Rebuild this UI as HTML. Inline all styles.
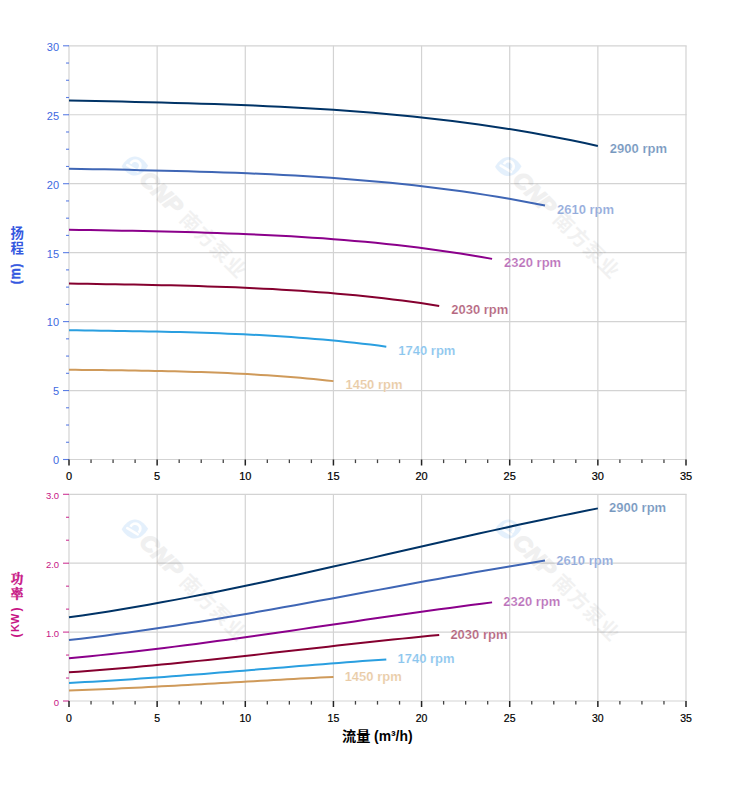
<!DOCTYPE html>
<html><head><meta charset="utf-8"><title>Pump curves</title>
<style>html,body{margin:0;padding:0;background:#fff}svg{display:block}text{font-family:"Liberation Sans","Noto Sans CJK SC",sans-serif}</style>
</head><body>
<svg width="752" height="797" viewBox="0 0 752 797">
<rect width="752" height="797" fill="#fff"/>
<line x1="69" y1="45.8" x2="69" y2="459.5" stroke="#d3d3d3" stroke-width="1.2"/>
<line x1="157.14" y1="45.8" x2="157.14" y2="459.5" stroke="#d3d3d3" stroke-width="1.2"/>
<line x1="245.29" y1="45.8" x2="245.29" y2="459.5" stroke="#d3d3d3" stroke-width="1.2"/>
<line x1="333.43" y1="45.8" x2="333.43" y2="459.5" stroke="#d3d3d3" stroke-width="1.2"/>
<line x1="421.57" y1="45.8" x2="421.57" y2="459.5" stroke="#d3d3d3" stroke-width="1.2"/>
<line x1="509.71" y1="45.8" x2="509.71" y2="459.5" stroke="#d3d3d3" stroke-width="1.2"/>
<line x1="597.86" y1="45.8" x2="597.86" y2="459.5" stroke="#d3d3d3" stroke-width="1.2"/>
<line x1="686" y1="45.8" x2="686" y2="459.5" stroke="#d3d3d3" stroke-width="1.2"/>
<line x1="69" y1="459.5" x2="686" y2="459.5" stroke="#d3d3d3" stroke-width="1.2" stroke-linecap="square"/>
<line x1="69" y1="390.55" x2="686" y2="390.55" stroke="#d3d3d3" stroke-width="1.2" stroke-linecap="square"/>
<line x1="69" y1="321.6" x2="686" y2="321.6" stroke="#d3d3d3" stroke-width="1.2" stroke-linecap="square"/>
<line x1="69" y1="252.65" x2="686" y2="252.65" stroke="#d3d3d3" stroke-width="1.2" stroke-linecap="square"/>
<line x1="69" y1="183.7" x2="686" y2="183.7" stroke="#d3d3d3" stroke-width="1.2" stroke-linecap="square"/>
<line x1="69" y1="114.75" x2="686" y2="114.75" stroke="#d3d3d3" stroke-width="1.2" stroke-linecap="square"/>
<line x1="69" y1="45.8" x2="686" y2="45.8" stroke="#d3d3d3" stroke-width="1.2" stroke-linecap="square"/>
<g transform="translate(134.9 166)" opacity="0.135"><path d="M-13.2 0.2 C-10 -5.5 -5 -9.6 0 -9.6 C5 -9.6 10 -5.5 13.2 -0.2 C10 5.5 5 9.6 0 9.6 C-5 9.6 -10 5.5 -13.2 0.2 Z" fill="#3f95ea"/><path d="M-4.4 -2.2 A5.1 5.1 0 1 1 3.6 3.6" fill="none" stroke="#fff" stroke-width="2.7"/><path d="M-7.6 -0.8 L2.8 5.3" fill="none" stroke="#fff" stroke-width="2.7" stroke-linecap="round"/></g><g transform="translate(134.9 166) rotate(45)"><text x="12.5" y="7.8" font-size="22.5" font-weight="bold" font-style="italic" fill="#222" stroke="#222" stroke-width="1.5" opacity="0.062" textLength="50" lengthAdjust="spacingAndGlyphs">CNP</text><text x="69" y="7.4" font-size="20" font-weight="bold" fill="#444" opacity="0.068" letter-spacing="1.2">南方泵业</text></g>
<g transform="translate(508.3 166.5)" opacity="0.135"><path d="M-13.2 0.2 C-10 -5.5 -5 -9.6 0 -9.6 C5 -9.6 10 -5.5 13.2 -0.2 C10 5.5 5 9.6 0 9.6 C-5 9.6 -10 5.5 -13.2 0.2 Z" fill="#3f95ea"/><path d="M-4.4 -2.2 A5.1 5.1 0 1 1 3.6 3.6" fill="none" stroke="#fff" stroke-width="2.7"/><path d="M-7.6 -0.8 L2.8 5.3" fill="none" stroke="#fff" stroke-width="2.7" stroke-linecap="round"/></g><g transform="translate(508.3 166.5) rotate(45)"><text x="12.5" y="7.8" font-size="22.5" font-weight="bold" font-style="italic" fill="#222" stroke="#222" stroke-width="1.5" opacity="0.062" textLength="50" lengthAdjust="spacingAndGlyphs">CNP</text><text x="69" y="7.4" font-size="20" font-weight="bold" fill="#444" opacity="0.068" letter-spacing="1.2">南方泵业</text></g>
<line x1="63" y1="459.5" x2="69" y2="459.5" stroke="#4169e1" stroke-width="1.1" opacity="0.85"/>
<text x="59.1" y="463.9" font-size="11" fill="#4169e1" text-anchor="end">0</text>
<line x1="66" y1="442.26" x2="69" y2="442.26" stroke="#4169e1" stroke-width="1.1" opacity="0.85"/>
<line x1="66" y1="425.02" x2="69" y2="425.02" stroke="#4169e1" stroke-width="1.1" opacity="0.85"/>
<line x1="66" y1="407.79" x2="69" y2="407.79" stroke="#4169e1" stroke-width="1.1" opacity="0.85"/>
<line x1="63" y1="390.55" x2="69" y2="390.55" stroke="#4169e1" stroke-width="1.1" opacity="0.85"/>
<text x="59.1" y="395.12" font-size="11" fill="#4169e1" text-anchor="end">5</text>
<line x1="66" y1="373.31" x2="69" y2="373.31" stroke="#4169e1" stroke-width="1.1" opacity="0.85"/>
<line x1="66" y1="356.07" x2="69" y2="356.07" stroke="#4169e1" stroke-width="1.1" opacity="0.85"/>
<line x1="66" y1="338.84" x2="69" y2="338.84" stroke="#4169e1" stroke-width="1.1" opacity="0.85"/>
<line x1="63" y1="321.6" x2="69" y2="321.6" stroke="#4169e1" stroke-width="1.1" opacity="0.85"/>
<text x="59.1" y="326.34" font-size="11" fill="#4169e1" text-anchor="end">10</text>
<line x1="66" y1="304.36" x2="69" y2="304.36" stroke="#4169e1" stroke-width="1.1" opacity="0.85"/>
<line x1="66" y1="287.12" x2="69" y2="287.12" stroke="#4169e1" stroke-width="1.1" opacity="0.85"/>
<line x1="66" y1="269.89" x2="69" y2="269.89" stroke="#4169e1" stroke-width="1.1" opacity="0.85"/>
<line x1="63" y1="252.65" x2="69" y2="252.65" stroke="#4169e1" stroke-width="1.1" opacity="0.85"/>
<text x="59.1" y="257.56" font-size="11" fill="#4169e1" text-anchor="end">15</text>
<line x1="66" y1="235.41" x2="69" y2="235.41" stroke="#4169e1" stroke-width="1.1" opacity="0.85"/>
<line x1="66" y1="218.18" x2="69" y2="218.18" stroke="#4169e1" stroke-width="1.1" opacity="0.85"/>
<line x1="66" y1="200.94" x2="69" y2="200.94" stroke="#4169e1" stroke-width="1.1" opacity="0.85"/>
<line x1="63" y1="183.7" x2="69" y2="183.7" stroke="#4169e1" stroke-width="1.1" opacity="0.85"/>
<text x="59.1" y="188.78" font-size="11" fill="#4169e1" text-anchor="end">20</text>
<line x1="66" y1="166.46" x2="69" y2="166.46" stroke="#4169e1" stroke-width="1.1" opacity="0.85"/>
<line x1="66" y1="149.23" x2="69" y2="149.23" stroke="#4169e1" stroke-width="1.1" opacity="0.85"/>
<line x1="66" y1="131.99" x2="69" y2="131.99" stroke="#4169e1" stroke-width="1.1" opacity="0.85"/>
<line x1="63" y1="114.75" x2="69" y2="114.75" stroke="#4169e1" stroke-width="1.1" opacity="0.85"/>
<text x="59.1" y="120" font-size="11" fill="#4169e1" text-anchor="end">25</text>
<line x1="66" y1="97.51" x2="69" y2="97.51" stroke="#4169e1" stroke-width="1.1" opacity="0.85"/>
<line x1="66" y1="80.27" x2="69" y2="80.27" stroke="#4169e1" stroke-width="1.1" opacity="0.85"/>
<line x1="66" y1="63.04" x2="69" y2="63.04" stroke="#4169e1" stroke-width="1.1" opacity="0.85"/>
<line x1="63" y1="45.8" x2="69" y2="45.8" stroke="#4169e1" stroke-width="1.1" opacity="0.85"/>
<text x="59.1" y="51.22" font-size="11" fill="#4169e1" text-anchor="end">30</text>
<line x1="69" y1="459.5" x2="69" y2="465.5" stroke="#222" stroke-width="1.5"/>
<text x="69" y="480" font-size="11" fill="#000" stroke="#000" stroke-width="0.2" text-anchor="middle">0</text>
<line x1="91.04" y1="459.5" x2="91.04" y2="463.1" stroke="#444" stroke-width="1.3"/>
<line x1="113.07" y1="459.5" x2="113.07" y2="463.1" stroke="#444" stroke-width="1.3"/>
<line x1="135.11" y1="459.5" x2="135.11" y2="463.1" stroke="#444" stroke-width="1.3"/>
<line x1="157.14" y1="459.5" x2="157.14" y2="465.5" stroke="#222" stroke-width="1.5"/>
<text x="157.14" y="480" font-size="11" fill="#000" stroke="#000" stroke-width="0.2" text-anchor="middle">5</text>
<line x1="179.18" y1="459.5" x2="179.18" y2="463.1" stroke="#444" stroke-width="1.3"/>
<line x1="201.21" y1="459.5" x2="201.21" y2="463.1" stroke="#444" stroke-width="1.3"/>
<line x1="223.25" y1="459.5" x2="223.25" y2="463.1" stroke="#444" stroke-width="1.3"/>
<line x1="245.29" y1="459.5" x2="245.29" y2="465.5" stroke="#222" stroke-width="1.5"/>
<text x="245.29" y="480" font-size="11" fill="#000" stroke="#000" stroke-width="0.2" text-anchor="middle">10</text>
<line x1="267.32" y1="459.5" x2="267.32" y2="463.1" stroke="#444" stroke-width="1.3"/>
<line x1="289.36" y1="459.5" x2="289.36" y2="463.1" stroke="#444" stroke-width="1.3"/>
<line x1="311.39" y1="459.5" x2="311.39" y2="463.1" stroke="#444" stroke-width="1.3"/>
<line x1="333.43" y1="459.5" x2="333.43" y2="465.5" stroke="#222" stroke-width="1.5"/>
<text x="333.43" y="480" font-size="11" fill="#000" stroke="#000" stroke-width="0.2" text-anchor="middle">15</text>
<line x1="355.46" y1="459.5" x2="355.46" y2="463.1" stroke="#444" stroke-width="1.3"/>
<line x1="377.5" y1="459.5" x2="377.5" y2="463.1" stroke="#444" stroke-width="1.3"/>
<line x1="399.54" y1="459.5" x2="399.54" y2="463.1" stroke="#444" stroke-width="1.3"/>
<line x1="421.57" y1="459.5" x2="421.57" y2="465.5" stroke="#222" stroke-width="1.5"/>
<text x="421.57" y="480" font-size="11" fill="#000" stroke="#000" stroke-width="0.2" text-anchor="middle">20</text>
<line x1="443.61" y1="459.5" x2="443.61" y2="463.1" stroke="#444" stroke-width="1.3"/>
<line x1="465.64" y1="459.5" x2="465.64" y2="463.1" stroke="#444" stroke-width="1.3"/>
<line x1="487.68" y1="459.5" x2="487.68" y2="463.1" stroke="#444" stroke-width="1.3"/>
<line x1="509.71" y1="459.5" x2="509.71" y2="465.5" stroke="#222" stroke-width="1.5"/>
<text x="509.71" y="480" font-size="11" fill="#000" stroke="#000" stroke-width="0.2" text-anchor="middle">25</text>
<line x1="531.75" y1="459.5" x2="531.75" y2="463.1" stroke="#444" stroke-width="1.3"/>
<line x1="553.79" y1="459.5" x2="553.79" y2="463.1" stroke="#444" stroke-width="1.3"/>
<line x1="575.82" y1="459.5" x2="575.82" y2="463.1" stroke="#444" stroke-width="1.3"/>
<line x1="597.86" y1="459.5" x2="597.86" y2="465.5" stroke="#222" stroke-width="1.5"/>
<text x="597.86" y="480" font-size="11" fill="#000" stroke="#000" stroke-width="0.2" text-anchor="middle">30</text>
<line x1="619.89" y1="459.5" x2="619.89" y2="463.1" stroke="#444" stroke-width="1.3"/>
<line x1="641.93" y1="459.5" x2="641.93" y2="463.1" stroke="#444" stroke-width="1.3"/>
<line x1="663.96" y1="459.5" x2="663.96" y2="463.1" stroke="#444" stroke-width="1.3"/>
<line x1="686" y1="459.5" x2="686" y2="465.5" stroke="#222" stroke-width="1.5"/>
<text x="686" y="480" font-size="11" fill="#000" stroke="#000" stroke-width="0.2" text-anchor="middle">35</text>
<polyline points="69,100.41 82.22,100.71 95.44,101.02 108.66,101.32 121.89,101.62 135.11,101.93 148.33,102.25 161.55,102.58 174.77,102.93 187.99,103.3 201.21,103.7 214.44,104.12 227.66,104.58 240.88,105.07 254.1,105.61 267.32,106.19 280.54,106.81 293.76,107.49 306.99,108.22 320.21,109.01 333.43,109.86 346.65,110.79 359.87,111.78 373.09,112.84 386.31,113.99 399.54,115.21 412.76,116.52 425.98,117.92 439.2,119.42 452.42,121.01 465.64,122.7 478.86,124.5 492.09,126.4 505.31,128.42 518.53,130.55 531.75,132.81 544.97,135.18 558.19,137.69 571.41,140.33 584.64,143.1 597.86,146.01" fill="none" stroke="#003366" stroke-width="2" stroke-linecap="butt" stroke-linejoin="round"/>
<text x="609.86" y="153.4" font-size="13" font-weight="bold" fill="#7798bf" stroke="#fff" stroke-width="0.16">2900 rpm</text>
<polyline points="69,168.63 80.9,168.88 92.8,169.13 104.7,169.37 116.6,169.62 128.5,169.87 140.4,170.13 152.3,170.4 164.19,170.68 176.09,170.98 187.99,171.3 199.89,171.65 211.79,172.02 223.69,172.42 235.59,172.85 247.49,173.32 259.39,173.82 271.29,174.37 283.19,174.96 295.09,175.6 306.99,176.3 318.88,177.04 330.78,177.84 342.68,178.71 354.58,179.63 366.48,180.63 378.38,181.69 390.28,182.82 402.18,184.03 414.08,185.32 425.98,186.69 437.88,188.15 449.78,189.69 461.68,191.32 473.58,193.05 485.48,194.88 497.37,196.8 509.27,198.83 521.17,200.97 533.07,203.21 544.97,205.57" fill="none" stroke="#3f66b5" stroke-width="2" stroke-linecap="butt" stroke-linejoin="round"/>
<text x="556.97" y="213.8" font-size="13" font-weight="bold" fill="#93abdb" stroke="#fff" stroke-width="0.16">2610 rpm</text>
<polyline points="69,229.68 79.58,229.88 90.15,230.07 100.73,230.26 111.31,230.46 121.89,230.66 132.46,230.86 143.04,231.07 153.62,231.3 164.19,231.53 174.77,231.79 185.35,232.06 195.93,232.35 206.5,232.67 217.08,233.01 227.66,233.38 238.23,233.78 248.81,234.21 259.39,234.68 269.97,235.19 280.54,235.73 291.12,236.32 301.7,236.96 312.27,237.64 322.85,238.37 333.43,239.15 344.01,239.99 354.58,240.89 365.16,241.85 375.74,242.87 386.31,243.95 396.89,245.1 407.47,246.32 418.05,247.61 428.62,248.97 439.2,250.42 449.78,251.94 460.35,253.54 470.93,255.23 481.51,257 492.09,258.86" fill="none" stroke="#8b008b" stroke-width="2" stroke-linecap="butt" stroke-linejoin="round"/>
<text x="504.09" y="267.1" font-size="13" font-weight="bold" fill="#bb73bb" stroke="#fff" stroke-width="0.16">2320 rpm</text>
<polyline points="69,283.54 78.25,283.69 87.51,283.84 96.77,283.99 106.02,284.14 115.28,284.29 124.53,284.45 133.79,284.61 143.04,284.78 152.3,284.96 161.55,285.16 170.81,285.37 180.06,285.59 189.31,285.83 198.57,286.09 207.82,286.38 217.08,286.68 226.34,287.01 235.59,287.37 244.84,287.76 254.1,288.18 263.36,288.63 272.61,289.12 281.87,289.64 291.12,290.2 300.38,290.8 309.63,291.44 318.88,292.13 328.14,292.86 337.4,293.64 346.65,294.47 355.91,295.35 365.16,296.28 374.41,297.27 383.67,298.32 392.93,299.42 402.18,300.59 411.44,301.81 420.69,303.1 429.94,304.46 439.2,305.89" fill="none" stroke="#85002f" stroke-width="2" stroke-linecap="butt" stroke-linejoin="round"/>
<text x="451.2" y="314.4" font-size="13" font-weight="bold" fill="#b5677f" stroke="#fff" stroke-width="0.16">2030 rpm</text>
<polyline points="69,330.23 76.93,330.34 84.87,330.45 92.8,330.55 100.73,330.66 108.66,330.78 116.6,330.89 124.53,331.01 132.46,331.14 140.4,331.27 148.33,331.41 156.26,331.56 164.19,331.73 172.13,331.91 180.06,332.1 187.99,332.31 195.93,332.53 203.86,332.78 211.79,333.04 219.72,333.32 227.66,333.63 235.59,333.96 243.52,334.32 251.46,334.7 259.39,335.11 267.32,335.56 275.25,336.03 283.19,336.53 291.12,337.07 299.05,337.64 306.99,338.25 314.92,338.9 322.85,339.58 330.78,340.31 338.72,341.08 346.65,341.89 354.58,342.75 362.52,343.65 370.45,344.6 378.38,345.59 386.31,346.64" fill="none" stroke="#2a9fe0" stroke-width="2" stroke-linecap="butt" stroke-linejoin="round"/>
<text x="398.31" y="355.1" font-size="13" font-weight="bold" fill="#8cc6ee" stroke="#fff" stroke-width="0.16">1740 rpm</text>
<polyline points="69,369.73 75.61,369.8 82.22,369.88 88.83,369.95 95.44,370.03 102.05,370.11 108.66,370.19 115.28,370.27 121.89,370.36 128.5,370.45 135.11,370.55 141.72,370.66 148.33,370.77 154.94,370.89 161.55,371.03 168.16,371.17 174.77,371.33 181.38,371.5 187.99,371.68 194.6,371.88 201.21,372.09 207.82,372.32 214.44,372.57 221.05,372.84 227.66,373.12 234.27,373.43 240.88,373.76 247.49,374.11 254.1,374.48 260.71,374.88 267.32,375.3 273.93,375.75 280.54,376.23 287.15,376.73 293.76,377.26 300.38,377.83 306.99,378.42 313.6,379.05 320.21,379.71 326.82,380.4 333.43,381.13" fill="none" stroke="#cf9a5a" stroke-width="2" stroke-linecap="butt" stroke-linejoin="round"/>
<text x="345.43" y="388.8" font-size="13" font-weight="bold" fill="#e9cba6" stroke="#fff" stroke-width="0.16">1450 rpm</text>
<line x1="69" y1="494.3" x2="69" y2="701" stroke="#d3d3d3" stroke-width="1.2"/>
<line x1="157.14" y1="494.3" x2="157.14" y2="701" stroke="#d3d3d3" stroke-width="1.2"/>
<line x1="245.29" y1="494.3" x2="245.29" y2="701" stroke="#d3d3d3" stroke-width="1.2"/>
<line x1="333.43" y1="494.3" x2="333.43" y2="701" stroke="#d3d3d3" stroke-width="1.2"/>
<line x1="421.57" y1="494.3" x2="421.57" y2="701" stroke="#d3d3d3" stroke-width="1.2"/>
<line x1="509.71" y1="494.3" x2="509.71" y2="701" stroke="#d3d3d3" stroke-width="1.2"/>
<line x1="597.86" y1="494.3" x2="597.86" y2="701" stroke="#d3d3d3" stroke-width="1.2"/>
<line x1="686" y1="494.3" x2="686" y2="701" stroke="#d3d3d3" stroke-width="1.2"/>
<line x1="69" y1="701" x2="686" y2="701" stroke="#d3d3d3" stroke-width="1.2" stroke-linecap="square"/>
<line x1="69" y1="632.1" x2="686" y2="632.1" stroke="#d3d3d3" stroke-width="1.2" stroke-linecap="square"/>
<line x1="69" y1="563.2" x2="686" y2="563.2" stroke="#d3d3d3" stroke-width="1.2" stroke-linecap="square"/>
<line x1="69" y1="494.3" x2="686" y2="494.3" stroke="#d3d3d3" stroke-width="1.2" stroke-linecap="square"/>
<g transform="translate(134.9 529)" opacity="0.135"><path d="M-13.2 0.2 C-10 -5.5 -5 -9.6 0 -9.6 C5 -9.6 10 -5.5 13.2 -0.2 C10 5.5 5 9.6 0 9.6 C-5 9.6 -10 5.5 -13.2 0.2 Z" fill="#3f95ea"/><path d="M-4.4 -2.2 A5.1 5.1 0 1 1 3.6 3.6" fill="none" stroke="#fff" stroke-width="2.7"/><path d="M-7.6 -0.8 L2.8 5.3" fill="none" stroke="#fff" stroke-width="2.7" stroke-linecap="round"/></g><g transform="translate(134.9 529) rotate(45)"><text x="12.5" y="7.8" font-size="22.5" font-weight="bold" font-style="italic" fill="#222" stroke="#222" stroke-width="1.5" opacity="0.062" textLength="50" lengthAdjust="spacingAndGlyphs">CNP</text><text x="69" y="7.4" font-size="20" font-weight="bold" fill="#444" opacity="0.068" letter-spacing="1.2">南方泵业</text></g>
<g transform="translate(508.3 529)" opacity="0.135"><path d="M-13.2 0.2 C-10 -5.5 -5 -9.6 0 -9.6 C5 -9.6 10 -5.5 13.2 -0.2 C10 5.5 5 9.6 0 9.6 C-5 9.6 -10 5.5 -13.2 0.2 Z" fill="#3f95ea"/><path d="M-4.4 -2.2 A5.1 5.1 0 1 1 3.6 3.6" fill="none" stroke="#fff" stroke-width="2.7"/><path d="M-7.6 -0.8 L2.8 5.3" fill="none" stroke="#fff" stroke-width="2.7" stroke-linecap="round"/></g><g transform="translate(508.3 529) rotate(45)"><text x="12.5" y="7.8" font-size="22.5" font-weight="bold" font-style="italic" fill="#222" stroke="#222" stroke-width="1.5" opacity="0.062" textLength="50" lengthAdjust="spacingAndGlyphs">CNP</text><text x="69" y="7.4" font-size="20" font-weight="bold" fill="#444" opacity="0.068" letter-spacing="1.2">南方泵业</text></g>
<line x1="63" y1="701" x2="69" y2="701" stroke="#c71585" stroke-width="1.1" opacity="0.85"/>
<text x="59.1" y="706" font-size="9.5" fill="#c71585" text-anchor="end">0</text>
<line x1="66" y1="678.03" x2="69" y2="678.03" stroke="#c71585" stroke-width="1.1" opacity="0.85"/>
<line x1="66" y1="655.07" x2="69" y2="655.07" stroke="#c71585" stroke-width="1.1" opacity="0.85"/>
<line x1="63" y1="632.1" x2="69" y2="632.1" stroke="#c71585" stroke-width="1.1" opacity="0.85"/>
<text x="59.1" y="637.03" font-size="9.5" fill="#c71585" text-anchor="end">1.0</text>
<line x1="66" y1="609.13" x2="69" y2="609.13" stroke="#c71585" stroke-width="1.1" opacity="0.85"/>
<line x1="66" y1="586.17" x2="69" y2="586.17" stroke="#c71585" stroke-width="1.1" opacity="0.85"/>
<line x1="63" y1="563.2" x2="69" y2="563.2" stroke="#c71585" stroke-width="1.1" opacity="0.85"/>
<text x="59.1" y="568.06" font-size="9.5" fill="#c71585" text-anchor="end">2.0</text>
<line x1="66" y1="540.23" x2="69" y2="540.23" stroke="#c71585" stroke-width="1.1" opacity="0.85"/>
<line x1="66" y1="517.27" x2="69" y2="517.27" stroke="#c71585" stroke-width="1.1" opacity="0.85"/>
<line x1="63" y1="494.3" x2="69" y2="494.3" stroke="#c71585" stroke-width="1.1" opacity="0.85"/>
<text x="59.1" y="499.09" font-size="9.5" fill="#c71585" text-anchor="end">3.0</text>
<line x1="69" y1="701" x2="69" y2="707" stroke="#222" stroke-width="1.5"/>
<text x="69" y="722" font-size="10.5" fill="#000" stroke="#000" stroke-width="0.2" text-anchor="middle">0</text>
<line x1="91.04" y1="701" x2="91.04" y2="704.6" stroke="#444" stroke-width="1.3"/>
<line x1="113.07" y1="701" x2="113.07" y2="704.6" stroke="#444" stroke-width="1.3"/>
<line x1="135.11" y1="701" x2="135.11" y2="704.6" stroke="#444" stroke-width="1.3"/>
<line x1="157.14" y1="701" x2="157.14" y2="707" stroke="#222" stroke-width="1.5"/>
<text x="157.14" y="722" font-size="10.5" fill="#000" stroke="#000" stroke-width="0.2" text-anchor="middle">5</text>
<line x1="179.18" y1="701" x2="179.18" y2="704.6" stroke="#444" stroke-width="1.3"/>
<line x1="201.21" y1="701" x2="201.21" y2="704.6" stroke="#444" stroke-width="1.3"/>
<line x1="223.25" y1="701" x2="223.25" y2="704.6" stroke="#444" stroke-width="1.3"/>
<line x1="245.29" y1="701" x2="245.29" y2="707" stroke="#222" stroke-width="1.5"/>
<text x="245.29" y="722" font-size="10.5" fill="#000" stroke="#000" stroke-width="0.2" text-anchor="middle">10</text>
<line x1="267.32" y1="701" x2="267.32" y2="704.6" stroke="#444" stroke-width="1.3"/>
<line x1="289.36" y1="701" x2="289.36" y2="704.6" stroke="#444" stroke-width="1.3"/>
<line x1="311.39" y1="701" x2="311.39" y2="704.6" stroke="#444" stroke-width="1.3"/>
<line x1="333.43" y1="701" x2="333.43" y2="707" stroke="#222" stroke-width="1.5"/>
<text x="333.43" y="722" font-size="10.5" fill="#000" stroke="#000" stroke-width="0.2" text-anchor="middle">15</text>
<line x1="355.46" y1="701" x2="355.46" y2="704.6" stroke="#444" stroke-width="1.3"/>
<line x1="377.5" y1="701" x2="377.5" y2="704.6" stroke="#444" stroke-width="1.3"/>
<line x1="399.54" y1="701" x2="399.54" y2="704.6" stroke="#444" stroke-width="1.3"/>
<line x1="421.57" y1="701" x2="421.57" y2="707" stroke="#222" stroke-width="1.5"/>
<text x="421.57" y="722" font-size="10.5" fill="#000" stroke="#000" stroke-width="0.2" text-anchor="middle">20</text>
<line x1="443.61" y1="701" x2="443.61" y2="704.6" stroke="#444" stroke-width="1.3"/>
<line x1="465.64" y1="701" x2="465.64" y2="704.6" stroke="#444" stroke-width="1.3"/>
<line x1="487.68" y1="701" x2="487.68" y2="704.6" stroke="#444" stroke-width="1.3"/>
<line x1="509.71" y1="701" x2="509.71" y2="707" stroke="#222" stroke-width="1.5"/>
<text x="509.71" y="722" font-size="10.5" fill="#000" stroke="#000" stroke-width="0.2" text-anchor="middle">25</text>
<line x1="531.75" y1="701" x2="531.75" y2="704.6" stroke="#444" stroke-width="1.3"/>
<line x1="553.79" y1="701" x2="553.79" y2="704.6" stroke="#444" stroke-width="1.3"/>
<line x1="575.82" y1="701" x2="575.82" y2="704.6" stroke="#444" stroke-width="1.3"/>
<line x1="597.86" y1="701" x2="597.86" y2="707" stroke="#222" stroke-width="1.5"/>
<text x="597.86" y="722" font-size="10.5" fill="#000" stroke="#000" stroke-width="0.2" text-anchor="middle">30</text>
<line x1="619.89" y1="701" x2="619.89" y2="704.6" stroke="#444" stroke-width="1.3"/>
<line x1="641.93" y1="701" x2="641.93" y2="704.6" stroke="#444" stroke-width="1.3"/>
<line x1="663.96" y1="701" x2="663.96" y2="704.6" stroke="#444" stroke-width="1.3"/>
<line x1="686" y1="701" x2="686" y2="707" stroke="#222" stroke-width="1.5"/>
<text x="686" y="722" font-size="10.5" fill="#000" stroke="#000" stroke-width="0.2" text-anchor="middle">35</text>
<polyline points="69,617.34 82.22,615.45 95.44,613.47 108.66,611.4 121.89,609.25 135.11,607.02 148.33,604.71 161.55,602.33 174.77,599.88 187.99,597.37 201.21,594.8 214.44,592.17 227.66,589.49 240.88,586.76 254.1,583.99 267.32,581.17 280.54,578.32 293.76,575.43 306.99,572.51 320.21,569.57 333.43,566.6 346.65,563.62 359.87,560.62 373.09,557.61 386.31,554.59 399.54,551.56 412.76,548.54 425.98,545.52 439.2,542.51 452.42,539.51 465.64,536.53 478.86,533.56 492.09,530.62 505.31,527.71 518.53,524.82 531.75,521.97 544.97,519.16 558.19,516.39 571.41,513.66 584.64,510.99 597.86,508.36" fill="none" stroke="#003366" stroke-width="2" stroke-linecap="butt" stroke-linejoin="round"/>
<text x="609.06" y="511.9" font-size="13" font-weight="bold" fill="#7798bf" stroke="#fff" stroke-width="0.16">2900 rpm</text>
<polyline points="69,640.01 80.9,638.64 92.8,637.19 104.7,635.68 116.6,634.11 128.5,632.49 140.4,630.8 152.3,629.07 164.19,627.29 176.09,625.46 187.99,623.58 199.89,621.67 211.79,619.71 223.69,617.72 235.59,615.7 247.49,613.65 259.39,611.57 271.29,609.46 283.19,607.33 295.09,605.19 306.99,603.02 318.88,600.85 330.78,598.66 342.68,596.47 354.58,594.26 366.48,592.06 378.38,589.86 390.28,587.66 402.18,585.46 414.08,583.28 425.98,581.1 437.88,578.94 449.78,576.79 461.68,574.67 473.58,572.57 485.48,570.49 497.37,568.44 509.27,566.42 521.17,564.43 533.07,562.48 544.97,560.57" fill="none" stroke="#3f66b5" stroke-width="2" stroke-linecap="butt" stroke-linejoin="round"/>
<text x="556.17" y="564.7" font-size="13" font-weight="bold" fill="#93abdb" stroke="#fff" stroke-width="0.16">2610 rpm</text>
<polyline points="69,658.17 79.58,657.2 90.15,656.18 100.73,655.12 111.31,654.02 121.89,652.88 132.46,651.7 143.04,650.48 153.62,649.23 164.19,647.94 174.77,646.63 185.35,645.28 195.93,643.91 206.5,642.51 217.08,641.09 227.66,639.65 238.23,638.19 248.81,636.71 259.39,635.22 269.97,633.71 280.54,632.19 291.12,630.66 301.7,629.12 312.27,627.58 322.85,626.04 333.43,624.49 344.01,622.94 354.58,621.4 365.16,619.85 375.74,618.32 386.31,616.79 396.89,615.27 407.47,613.77 418.05,612.27 428.62,610.8 439.2,609.34 449.78,607.9 460.35,606.48 470.93,605.08 481.51,603.71 492.09,602.37" fill="none" stroke="#8b008b" stroke-width="2" stroke-linecap="butt" stroke-linejoin="round"/>
<text x="503.29" y="605.9" font-size="13" font-weight="bold" fill="#bb73bb" stroke="#fff" stroke-width="0.16">2320 rpm</text>
<polyline points="69,672.31 78.25,671.66 87.51,670.98 96.77,670.27 106.02,669.53 115.28,668.76 124.53,667.97 133.79,667.16 143.04,666.32 152.3,665.46 161.55,664.57 170.81,663.67 180.06,662.75 189.31,661.82 198.57,660.87 207.82,659.9 217.08,658.92 226.34,657.93 235.59,656.93 244.84,655.92 254.1,654.9 263.36,653.88 272.61,652.85 281.87,651.82 291.12,650.78 300.38,649.74 309.63,648.71 318.88,647.67 328.14,646.64 337.4,645.61 346.65,644.59 355.91,643.57 365.16,642.56 374.41,641.56 383.67,640.57 392.93,639.59 402.18,638.63 411.44,637.68 420.69,636.74 429.94,635.83 439.2,634.93" fill="none" stroke="#85002f" stroke-width="2" stroke-linecap="butt" stroke-linejoin="round"/>
<text x="450.4" y="639.1" font-size="13" font-weight="bold" fill="#b5677f" stroke="#fff" stroke-width="0.16">2030 rpm</text>
<polyline points="69,682.93 76.93,682.52 84.87,682.09 92.8,681.65 100.73,681.18 108.66,680.7 116.6,680.2 124.53,679.69 132.46,679.16 140.4,678.62 148.33,678.06 156.26,677.49 164.19,676.91 172.13,676.33 180.06,675.73 187.99,675.12 195.93,674.5 203.86,673.88 211.79,673.25 219.72,672.61 227.66,671.97 235.59,671.33 243.52,670.68 251.46,670.03 259.39,669.37 267.32,668.72 275.25,668.07 283.19,667.42 291.12,666.77 299.05,666.12 306.99,665.47 314.92,664.83 322.85,664.2 330.78,663.57 338.72,662.95 346.65,662.33 354.58,661.72 362.52,661.12 370.45,660.53 378.38,659.96 386.31,659.39" fill="none" stroke="#2a9fe0" stroke-width="2" stroke-linecap="butt" stroke-linejoin="round"/>
<text x="397.51" y="663" font-size="13" font-weight="bold" fill="#8cc6ee" stroke="#fff" stroke-width="0.16">1740 rpm</text>
<polyline points="69,690.54 75.61,690.31 82.22,690.06 88.83,689.8 95.44,689.53 102.05,689.25 108.66,688.96 115.28,688.67 121.89,688.36 128.5,688.05 135.11,687.73 141.72,687.4 148.33,687.06 154.94,686.72 161.55,686.37 168.16,686.02 174.77,685.66 181.38,685.3 187.99,684.94 194.6,684.57 201.21,684.2 207.82,683.83 214.44,683.45 221.05,683.08 227.66,682.7 234.27,682.32 240.88,681.94 247.49,681.57 254.1,681.19 260.71,680.81 267.32,680.44 273.93,680.07 280.54,679.7 287.15,679.34 293.76,678.98 300.38,678.62 306.99,678.27 313.6,677.92 320.21,677.58 326.82,677.25 333.43,676.92" fill="none" stroke="#cf9a5a" stroke-width="2" stroke-linecap="butt" stroke-linejoin="round"/>
<text x="344.63" y="681" font-size="13" font-weight="bold" fill="#e9cba6" stroke="#fff" stroke-width="0.16">1450 rpm</text>
<text x="10.5" y="238.2" font-size="13.4" font-weight="bold" fill="#3558e0">扬</text>
<text x="10.5" y="253" font-size="13.4" font-weight="bold" fill="#3558e0">程</text>
<g transform="translate(20.3 0) rotate(-90)" font-size="13.5" font-weight="bold" fill="#3558e0"><text transform="translate(-284.0 0) scale(0.76 1)" x="0" y="0" stroke="#3558e0" stroke-width="0.7">(</text><text transform="translate(-279.5 0) scale(1 1.15)" x="0" y="0" textLength="11.2" lengthAdjust="spacingAndGlyphs" stroke="#3558e0" stroke-width="0.45">m</text><text transform="translate(-267.3 0) scale(0.76 1)" x="0" y="0" stroke="#3558e0" stroke-width="0.7">)</text></g>
<text x="10.8" y="583.2" font-size="12.6" font-weight="bold" fill="#c71585" stroke="#c71585" stroke-width="0.4" style="font-family:'Liberation Serif','Noto Serif CJK SC',serif">功</text>
<text x="10.8" y="598.2" font-size="12.6" font-weight="bold" fill="#c71585" stroke="#c71585" stroke-width="0.4" style="font-family:'Liberation Serif','Noto Serif CJK SC',serif">率</text>
<g transform="translate(18.8 0) rotate(-90)" font-weight="bold" fill="#c71585"><text x="-637.4" y="0.7" font-size="12.3">(</text><text x="-631.9" y="0" font-size="10.5" textLength="18.3" lengthAdjust="spacingAndGlyphs">KW</text><text x="-611.6" y="0.7" font-size="12.3">)</text></g>
<text x="342" y="741.4" font-size="14.2" font-weight="bold" fill="#000">流量</text>
<text x="374" y="740.7" font-size="13.9" font-weight="bold" fill="#000">(m³/h)</text>
</svg></body></html>
